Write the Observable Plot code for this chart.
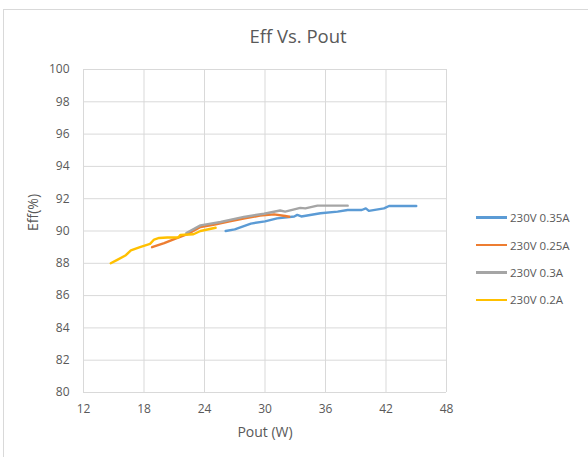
<!DOCTYPE html>
<html>
<head>
<meta charset="utf-8">
<script src="https://cdn.jsdelivr.net/npm/d3@7"></script>
<script src="https://cdn.jsdelivr.net/npm/@observablehq/plot@0.6"></script>
<style>
  body { margin: 0; background: #fff; font-family: "Open Sans", sans-serif; }
  #wrap { position: relative; width: 588px; height: 457px; overflow: hidden; background: #fff; }
  #frame { position: absolute; left: 3px; top: 9px; width: 620px; height: 480px; border: 1px solid #d9d9d9; box-sizing: border-box; }
  #title { position: absolute; left: 3px; width: 590px; top: 23px; text-align: center; font-size: 18.5px; color: #595959; }
  #plot { position: absolute; left: 0; top: 0; }
  #legend { position: absolute; left: 476px; top: 204px; }
  .item { display: flex; align-items: center; height: 27.4px; font-size: 11.5px; color: #595959; }
  .sw { width: 31px; height: 2.5px; margin-right: 3px; }
</style>
</head>
<body>
<div id="wrap">
  <div id="frame"></div>
  <div id="plot"></div>
  <div id="title">Eff Vs. Pout</div>
  <div id="legend"></div>
</div>
<script>
const seriesNames = ["230V 0.35A", "230V 0.25A", "230V 0.3A", "230V 0.2A"];
const seriesColors = ["#5B9BD5", "#ED7D31", "#A5A5A5", "#FFC000"];

const pout035 = [26.1, 27.0, 28.6, 30.0, 31.2, 32.9, 33.2, 33.6, 35.5, 37.2, 38.2, 39.6, 40.0, 40.3, 41.8, 42.3, 45.0];
const eff035  = [90.0, 90.1, 90.46, 90.6, 90.78, 90.9, 91.0, 90.9, 91.1, 91.2, 91.3, 91.3, 91.4, 91.25, 91.4, 91.55, 91.55];

const pout025 = [18.8, 20.0, 21.0, 22.3, 23.6, 25.0, 26.5, 28.0, 29.5, 30.9, 32.0, 32.4];
const eff025  = [89.0, 89.25, 89.5, 89.8, 90.25, 90.4, 90.6, 90.78, 90.95, 91.03, 90.93, 90.88];

const pout03 = [22.2, 23.6, 25.6, 27.9, 29.9, 31.5, 32.0, 33.5, 34.0, 35.2, 38.2];
const eff03  = [89.88, 90.35, 90.56, 90.87, 91.07, 91.27, 91.2, 91.43, 91.4, 91.57, 91.57];

const pout02 = [14.7, 15.3, 16.2, 16.7, 17.6, 18.6, 19.0, 19.5, 20.3, 21.4, 21.6, 22.9, 23.6, 25.1];
const eff02  = [88.0, 88.2, 88.5, 88.8, 89.0, 89.2, 89.47, 89.57, 89.6, 89.6, 89.75, 89.8, 90.0, 90.2];

const xTicks = [12, 18, 24, 30, 36, 42, 48];
const yTicks = [80, 82, 84, 86, 88, 90, 92, 94, 96, 98, 100];

const allX = [pout035, pout025, pout03, pout02];
const allY = [eff035, eff025, eff03, eff02];
const data = allX.flatMap((xs, s) => xs.map((x, i) => ({series: seriesNames[s], pout: x, eff: allY[s][i]})));

const chart = Plot.plot({
  width: 588,
  height: 457,
  marginLeft: 83,
  marginRight: 142,
  marginTop: 69,
  marginBottom: 65,
  style: {fontFamily: "Open Sans, sans-serif", fontSize: "12px", color: "#595959", background: "transparent"},
  x: {domain: [12, 48], ticks: xTicks, label: null},
  y: {domain: [80, 100], ticks: yTicks, label: null},
  color: {domain: seriesNames, range: seriesColors},
  marks: [
    Plot.gridX(xTicks, {stroke: "#d9d9d9", strokeOpacity: 1}),
    Plot.gridY(yTicks, {stroke: "#d9d9d9", strokeOpacity: 1}),
    Plot.axisX(xTicks, {tickSize: 0, tickPadding: 12, fill: "#595959", fontSize: 12}),
    Plot.axisY(yTicks, {tickSize: 0, tickPadding: 14, fill: "#595959", fontSize: 12}),
    Plot.line(data, {x: "pout", y: "eff", z: "series", stroke: "series", strokeWidth: 2.4, curve: "linear"}),
    Plot.text(["Pout (W)"], {frameAnchor: "bottom", dy: 44, fontSize: 14, fill: "#595959"}),
    Plot.text(["Eff(%)"], {frameAnchor: "left", dx: -50, rotate: -90, fontSize: 14, fill: "#595959"})
  ]
});
document.getElementById("plot").appendChild(chart);

const legend = document.getElementById("legend");
seriesNames.forEach((n, i) => {
  const item = document.createElement("div");
  item.className = "item";
  const sw = document.createElement("div");
  sw.className = "sw";
  sw.style.background = seriesColors[i];
  const t = document.createElement("span");
  t.textContent = n;
  item.appendChild(sw);
  item.appendChild(t);
  legend.appendChild(item);
});
</script>
</body>
</html>
